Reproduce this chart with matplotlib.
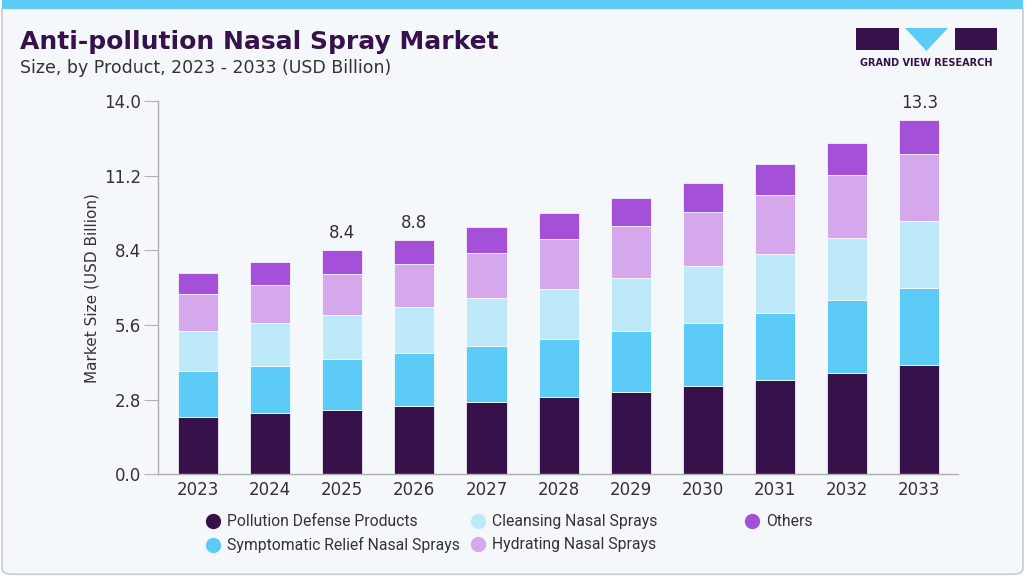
import numpy as np
import matplotlib.pyplot as plt
from matplotlib.patches import FancyBboxPatch, Rectangle, Polygon

years = ['2023', '2024', '2025', '2026', '2027', '2028', '2029', '2030', '2031', '2032', '2033']
pollution = [2.14, 2.29, 2.41, 2.55, 2.70, 2.88, 3.08, 3.30, 3.53, 3.80, 4.11]
symptomatic = [1.72, 1.79, 1.93, 1.99, 2.10, 2.19, 2.30, 2.38, 2.52, 2.72, 2.89]
cleansing = [1.53, 1.59, 1.63, 1.74, 1.81, 1.89, 2.00, 2.12, 2.23, 2.34, 2.49]
hydrating = [1.38, 1.44, 1.55, 1.61, 1.70, 1.85, 1.92, 2.03, 2.20, 2.36, 2.52]
others = [0.79, 0.85, 0.88, 0.91, 0.98, 0.98, 1.05, 1.09, 1.16, 1.22, 1.29]
labelled = {'2025': '8.4', '2026': '8.8', '2033': '13.3'}

series = [
    ('Pollution Defense Products', pollution, '#37114a'),
    ('Symptomatic Relief Nasal Sprays', symptomatic, '#5ccbf5'),
    ('Cleansing Nasal Sprays', cleansing, '#bde9f8'),
    ('Hydrating Nasal Sprays', hydrating, '#d5a8ec'),
    ('Others', others, '#a550d8'),
]

bg = '#f4f8fb'
text_col = '#333333'
narrow = ['Roboto', 'DejaVu Sans']

fig = plt.figure(figsize=(10.25, 5.76), dpi=100)
fig.patch.set_facecolor('white')

# card background with top cyan band
fig.patches.append(FancyBboxPatch((0.002, 0.003), 0.996, 0.99, boxstyle='round,pad=0,rounding_size=0.01',
                                  transform=fig.transFigure, facecolor=bg, edgecolor='#c8ccd0', lw=1.2, zorder=-2))
fig.patches.append(Rectangle((0.002, 0.985), 0.996, 0.015, transform=fig.transFigure,
                             facecolor='#5ccbf5', edgecolor='none', zorder=-1))

ax = fig.add_axes([0.154, 0.1766, 0.781, 0.648])
ax.set_facecolor(bg)

x = np.arange(len(years))
bottom = np.zeros(len(years))
for name, vals, col in series:
    ax.bar(x, vals, width=0.555, bottom=bottom, color=col, edgecolor='white', linewidth=0.5, label=name)
    bottom += np.array(vals)

for i, yr in enumerate(years):
    if yr in labelled:
        ax.text(x[i], bottom[i] + 0.3, labelled[yr], ha='center', va='bottom', fontsize=12, color=text_col)

ax.set_xlim(-0.555, 10.54)
ax.set_ylim(0, 14)
ax.set_yticks([0, 2.8, 5.6, 8.4, 11.2, 14.0])
ax.set_yticklabels(['0.0', '2.8', '5.6', '8.4', '11.2', '14.0'])
ax.set_xticks(x)
ax.set_xticklabels(years)
ax.tick_params(axis='y', length=10, color='#b0b0b0', labelsize=12, labelcolor=text_col, pad=2)
ax.tick_params(axis='x', length=0, labelsize=12, labelcolor=text_col, pad=5)
for s in ['top', 'right']:
    ax.spines[s].set_visible(False)
for s in ['left', 'bottom']:
    ax.spines[s].set_color('#b0b0b0')
    ax.spines[s].set_linewidth(1)
ax.set_ylabel('Market Size (USD Billion)', fontsize=11, color=text_col, labelpad=3)

# legend: three columns placed separately to follow the reference spacing
handles = [plt.Line2D([], [], marker='o', ls='', markersize=10, color=c) for _, _, c in series]
names = [n for n, _, _ in series]
col_x = [197, 462, 736]
col_items = [[0, 1], [2, 3], [4]]
for cx, idx in zip(col_x, col_items):
    leg = fig.legend([handles[i] for i in idx], [names[i] for i in idx], ncol=1, loc='upper left',
                     bbox_to_anchor=(cx / 1025, 0.118), frameon=False,
                     prop={'family': narrow, 'size': 11.3}, labelcolor=text_col, handletextpad=0.3,
                     labelspacing=0.5, borderaxespad=0, handlelength=1.2)

fig.text(0.02, 0.927, 'Anti-pollution Nasal Spray Market', fontsize=18, fontweight='heavy',
         color='#37114a', va='center', ha='left')
fig.text(0.02, 0.882, 'Size, by Product, 2023 - 2033 (USD Billion)', fontsize=12.5,
         color=text_col, va='center', ha='left')

# logo
W, H = 1025, 576
def fx(px):
    return px / W
def fy(py):
    return 1 - py / H
fig.patches.append(Rectangle((fx(856), fy(50)), fx(43), 22 / H, transform=fig.transFigure,
                             facecolor='#37114a', edgecolor='none'))
fig.patches.append(Rectangle((fx(955), fy(50)), fx(42), 22 / H, transform=fig.transFigure,
                             facecolor='#37114a', edgecolor='none'))
fig.patches.append(Polygon([(fx(905), fy(28)), (fx(948), fy(28)), (fx(926.5), fy(51))], closed=True,
                           transform=fig.transFigure, facecolor='#5ccbf5', edgecolor='none'))
fig.text(fx(926.5), fy(63), 'GRAND VIEW RESEARCH', fontsize=7, fontweight='bold', color='#37114a',
         ha='center', va='center')

fig.savefig('out.png', dpi=100, facecolor='white')
